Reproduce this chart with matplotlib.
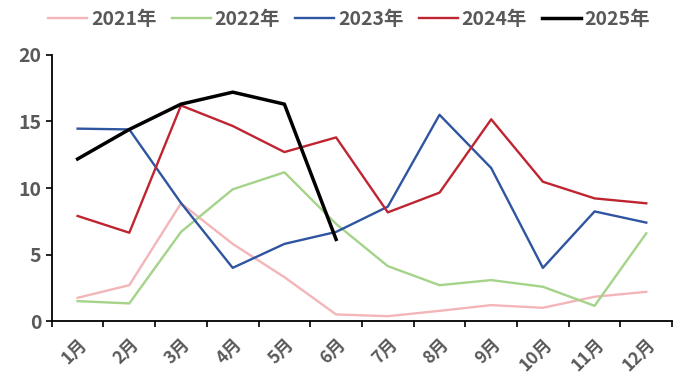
import matplotlib
matplotlib.use("Agg")
import matplotlib.pyplot as plt
from matplotlib.ticker import FixedLocator, NullFormatter

plt.rcParams['font.family'] = ['Noto Sans CJK SC', 'DejaVu Sans']

months = ["1月", "2月", "3月", "4月", "5月", "6月", "7月", "8月", "9月", "10月", "11月", "12月"]

y2021 = [1.75, 2.7, 8.85, 5.8, 3.3, 0.5, 0.37, 0.77, 1.2, 1.0, 1.83, 2.2]
y2022 = [1.5, 1.33, 6.7, 9.9, 11.18, 7.3, 4.13, 2.7, 3.08, 2.58, 1.15, 6.6]
y2023 = [14.46, 14.4, 8.87, 4.0, 5.8, 6.7, 8.6, 15.5, 11.5, 4.0, 8.24, 7.4]
y2024 = [7.9, 6.64, 16.2, 14.66, 12.7, 13.8, 8.17, 9.65, 15.16, 10.47, 9.22, 8.85]
y2025 = [12.18, 14.4, 16.3, 17.2, 16.3, 6.14]

series = [
    ("2021年", y2021, "#F4B5B8", 1.7),
    ("2022年", y2022, "#A5D38A", 1.7),
    ("2023年", y2023, "#2F55A0", 1.7),
    ("2024年", y2024, "#BE2530", 1.7),
    ("2025年", y2025, "#000000", 2.5),
]

fig = plt.figure(figsize=(6.81, 3.76), dpi=100)
ax = fig.add_axes([0.076, 0.146, 0.911, 0.708])

x = list(range(len(months)))
for name, vals, color, lw in series:
    ax.plot(x[:len(vals)], vals, color=color, linewidth=lw, label=name)

ax.set_xlim(-0.5, 11.5)
ax.set_ylim(0, 20)
ax.set_yticks([0, 5, 10, 15, 20])
ax.set_xticks(x)
ax.set_xticklabels(months, rotation=45, ha="right", rotation_mode="anchor")
# tick marks sit between the months
ax.xaxis.set_minor_locator(FixedLocator([i - 0.5 for i in range(13)]))
ax.xaxis.set_minor_formatter(NullFormatter())
ax.tick_params(axis="x", which="major", length=0, pad=10, labelsize=12.5, labelcolor="#595959")
ax.tick_params(axis="x", which="minor", length=4, width=1.2, color="black", direction="out")
ax.tick_params(axis="y", length=4, width=1.2, color="black", labelsize=14, labelcolor="#595959")
for lab in ax.get_xticklabels() + ax.get_yticklabels():
    lab.set_fontweight("bold")

for side in ("top", "right"):
    ax.spines[side].set_visible(False)
for side in ("left", "bottom"):
    ax.spines[side].set_linewidth(1.3)

leg = fig.legend(loc="upper center", bbox_to_anchor=(0.513, 1.02), ncol=5, frameon=False,
                 fontsize=14, handlelength=2.0, handletextpad=0.2, columnspacing=0.78,
                 labelcolor="#595959")
for t in leg.get_texts():
    t.set_fontweight("bold")

fig.savefig("out.png", dpi=100)
